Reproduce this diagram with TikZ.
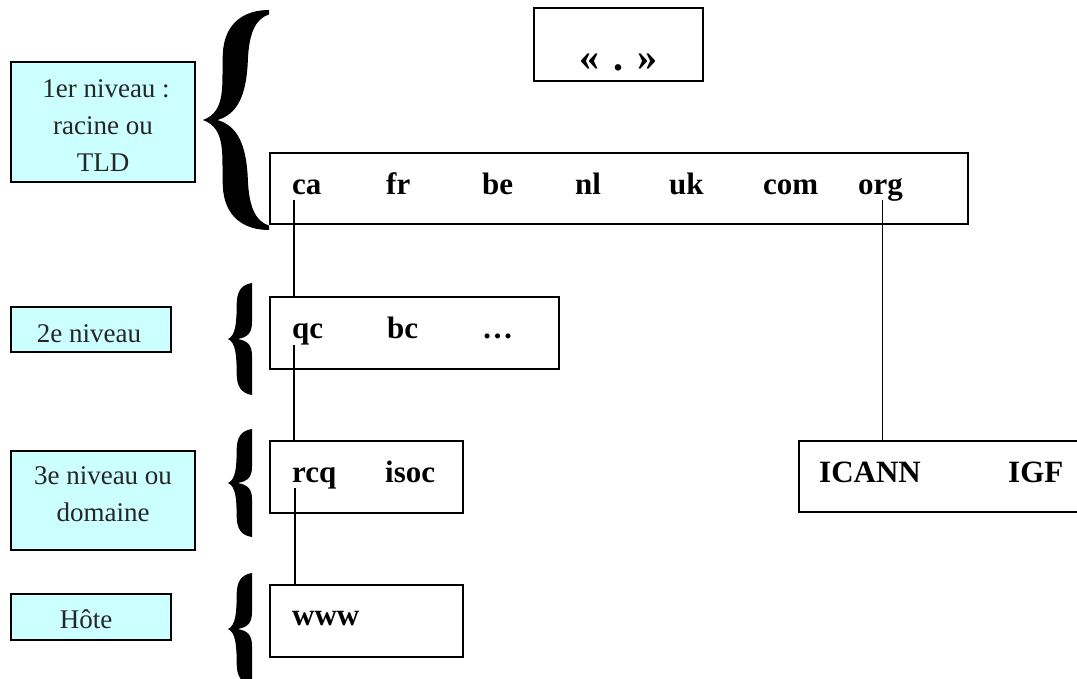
\documentclass[tikz,border=0pt]{standalone}
\usepackage{fontspec}
\setmainfont{Liberation Serif}
\usetikzlibrary{calc}
\definecolor{labfill}{HTML}{CCFFFF}
\tikzset{
  box/.style={draw=black, line width=2pt, rectangle, inner sep=0pt},
  labbox/.style={draw=black, line width=2.2pt, fill=labfill, rectangle, inner sep=0pt},
  labtxt/.style={anchor=base, inner sep=0pt, text=black!85, font=\fontsize{27}{32}\selectfont},
  tag/.style={anchor=base west, inner sep=0pt, font=\bfseries\fontsize{31}{37}\selectfont},
  conn/.style={draw=black, line width=1.6pt},
  bigbrace/.pic={
    \fill[black] (1,-1) .. controls (0.62,-1) and (0.32,-0.88) .. (0.3,-0.6)
      .. controls (0.28,-0.32) and (0.36,-0.08) .. (0,0)
      .. controls (0.36,0.08) and (0.28,0.32) .. (0.3,0.6)
      .. controls (0.32,0.88) and (0.62,1) .. (1,1)
      -- (1,0.96)
      .. controls (0.8,0.92) and (0.7,0.8) .. (0.68,0.55)
      .. controls (0.66,0.2) and (0.5,0.05) .. (0.22,0)
      .. controls (0.5,-0.05) and (0.66,-0.2) .. (0.68,-0.55)
      .. controls (0.7,-0.8) and (0.8,-0.92) .. (1,-0.96) -- cycle;
  },
  smallbrace/.pic={
    \fill[black] (1,-1) .. controls (0.55,-0.97) and (0.36,-0.85) .. (0.36,-0.6)
      .. controls (0.36,-0.3) and (0.32,-0.06) .. (0,0)
      .. controls (0.32,0.06) and (0.36,0.3) .. (0.36,0.6)
      .. controls (0.36,0.85) and (0.55,0.97) .. (1,1)
      -- (1,0.3) .. controls (1,0.1) and (0.8,0.03) .. (0.4,0)
      .. controls (0.8,-0.03) and (1,-0.1) .. (1,-0.3) -- cycle;
  },
}
\begin{document}
\begin{tikzpicture}[x=1pt,y=-1pt]
\useasboundingbox (0,0) rectangle (1077,678);
\fill[white] (0,0) rectangle (1077,678);

% left label boxes
\node[labbox, minimum width=184pt, minimum height=120pt] (lab1) at (103,122) {};
\node[labtxt] (lab1a) at (106,97) {1er niveau :};
\node[labtxt] (lab1b) at (103,134) {racine ou};
\node[labtxt] (lab1c) at (103,171) {TLD};

\node[labbox, minimum width=160pt, minimum height=45pt] (lab2) at (91,329.5) {};
\node[labtxt] (lab2a) at (89,342) {2e niveau};

\node[labbox, minimum width=184pt, minimum height=99pt] (lab3) at (103,500.5) {};
\node[labtxt] (lab3a) at (103,484) {3e niveau ou};
\node[labtxt] (lab3b) at (103,521) {domaine};

\node[labbox, minimum width=160pt, minimum height=46pt] (lab4) at (91,617) {};
\node[labtxt] (lab4a) at (86,628) {Hôte};

% braces
\pic[xscale=66, yscale=110] at (203,120) {bigbrace};
\pic[xscale=24, yscale=56] at (228,339) {smallbrace};
\pic[xscale=24, yscale=54] at (228,483) {smallbrace};
\pic[xscale=24, yscale=56] at (228,629) {smallbrace};

% root box
\node[box, minimum width=169pt, minimum height=73pt] (root) at (618.5,44.5) {};
\node[anchor=base, inner sep=0pt, font=\bfseries\fontsize{40}{44}\selectfont] (rootlbl) at (618,70)
  {«\hspace{14pt}.\hspace{14pt}»};

% TLD box
\node[box, minimum width=698pt, minimum height=71pt] (tld) at (619,188.5) {};
\node[tag] (ca)  at (292,194) {ca};
\node[tag] (fr)  at (386,194) {fr};
\node[tag] (be)  at (482,194) {be};
\node[tag] (nl)  at (575,194) {nl};
\node[tag] (uk)  at (669,194) {uk};
\node[tag] (com) at (763,194) {com};
\node[tag] (org) at (858,194) {org};

% second level
\node[box, minimum width=289pt, minimum height=72pt] (l2) at (414.5,333) {};
\node[tag] (qc) at (292,338) {qc};
\node[tag] (bc) at (387,338) {bc};
\node[tag] (etc) at (482,338) {…};

% third level
\node[box, minimum width=193pt, minimum height=72pt] (l3) at (366.5,477) {};
\node[tag] (rcq) at (292,482) {rcq};
\node[tag] (isoc) at (385,482) {isoc};

% host
\node[box, minimum width=193pt, minimum height=72pt] (l4) at (366.5,621) {};
\node[tag] (www) at (292,625) {www};

% ICANN box
\node[box, minimum width=290pt, minimum height=71pt] (org2) at (944,476.5) {};
\node[tag] (icann) at (819,482) {ICANN};
\node[tag] (igf) at (1008,482) {IGF};

% connectors
\coordinate (caB)  at ($(ca.base west)+(2,6)$);
\coordinate (qcB)  at ($(qc.base west)+(2,7)$);
\coordinate (rcqB) at ($(rcq.base west)+(3,6)$);
\coordinate (orgB) at ($(org.base)+(2,6)$);
\draw[conn] (caB) -- (caB |- l2.north);
\draw[conn] (qcB) -- (qcB |- l3.north);
\draw[conn] (rcqB) -- (rcqB |- l4.north);
\draw[conn] (orgB) -- (orgB |- org2.north);
\end{tikzpicture}
\end{document}
